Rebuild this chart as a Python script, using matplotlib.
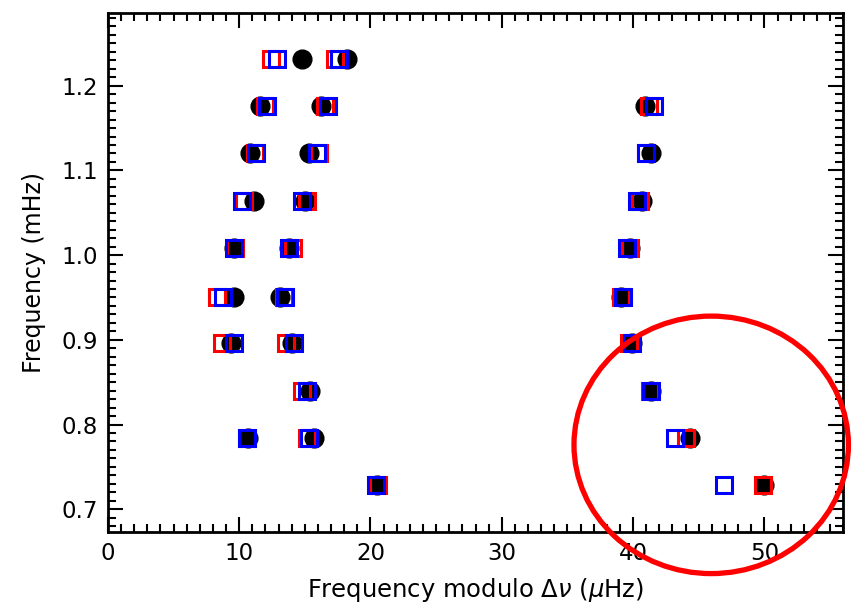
import matplotlib
matplotlib.use("Agg")
import matplotlib.pyplot as plt
from matplotlib.patches import Ellipse
from matplotlib.ticker import MultipleLocator

# frequency of each order row (mHz)
rows = [1.231, 1.176, 1.121, 1.064, 1.008, 0.951, 0.896, 0.840, 0.784, 0.728]

# frequency modulo dnu (uHz), one list per row
black_x = [[14.8, 18.2], [11.6, 16.2, 40.9], [10.8, 15.3, 41.4], [11.1, 15.0, 40.7],
           [9.6, 13.8, 39.8], [9.6, 13.1, 39.1], [9.4, 14.0, 39.9], [15.4, 41.4],
           [10.7, 15.7, 44.3], [20.5, 50.0]]
red_x = [[12.4, 17.3], [12.0, 16.5, 41.2], [11.2, 16.1, 41.0], [10.4, 15.2, 40.5],
         [9.7, 14.1, 39.8], [8.3, 13.4, 39.1], [8.7, 13.6, 39.7], [14.8, 41.3],
         [10.6, 15.2, 44.0], [20.6, 49.9]]
blue_x = [[12.9, 17.6], [12.1, 16.8, 41.6], [11.3, 15.9, 41.0], [10.2, 14.8, 40.3],
          [9.6, 13.8, 39.5], [8.8, 13.5, 39.2], [9.6, 14.2, 39.9], [15.2, 41.4],
          [10.6, 15.3, 43.2], [20.4, 46.9]]


def flat(xs):
    x, y = [], []
    for r, vals in zip(rows, xs):
        for v in vals:
            x.append(v)
            y.append(r)
    return x, y


plt.rcParams['font.family'] = 'DejaVu Sans'
fig = plt.figure(figsize=(8.56, 6.13), dpi=100)
ax = fig.add_axes([0.126, 0.132, 0.859, 0.847])

bx, by = flat(black_x)
ax.plot(bx, by, 'o', color='k', ms=13.5, zorder=3)
rx, ry = flat(red_x)
ax.plot(rx, ry, 's', mfc='none', mec='#ff0000', ms=11, mew=2.2, zorder=4)
ux, uy = flat(blue_x)
ax.plot(ux, uy, 's', mfc='none', mec='#0000ff', ms=11, mew=2.2, zorder=5)

ax.set_xlim(0, 56)
ax.set_ylim(0.673, 1.286)
ax.xaxis.set_major_locator(MultipleLocator(10))
ax.xaxis.set_minor_locator(MultipleLocator(1))
ax.yaxis.set_major_locator(MultipleLocator(0.1))
ax.yaxis.set_minor_locator(MultipleLocator(0.01))
ax.tick_params(which='both', direction='in', top=True, right=True, width=1.5, labelsize=16.5)
ax.tick_params(which='major', length=11, pad=7)
ax.tick_params(which='minor', length=5.5)
for s in ax.spines.values():
    s.set_linewidth(2)

ax.set_xlabel(r'Frequency modulo $\Delta\nu$ ($\mu$Hz)', fontsize=17.5, labelpad=8)
ax.set_ylabel('Frequency (mHz)', fontsize=17, labelpad=11)

# highlight of the low-frequency region
ring = Ellipse((45.95, 0.776), 20.9, 0.304, fill=False, ec='#ff0000', lw=3.8,
               clip_on=False, zorder=6)
ax.add_patch(ring)

fig.savefig('out.png', dpi=100)
